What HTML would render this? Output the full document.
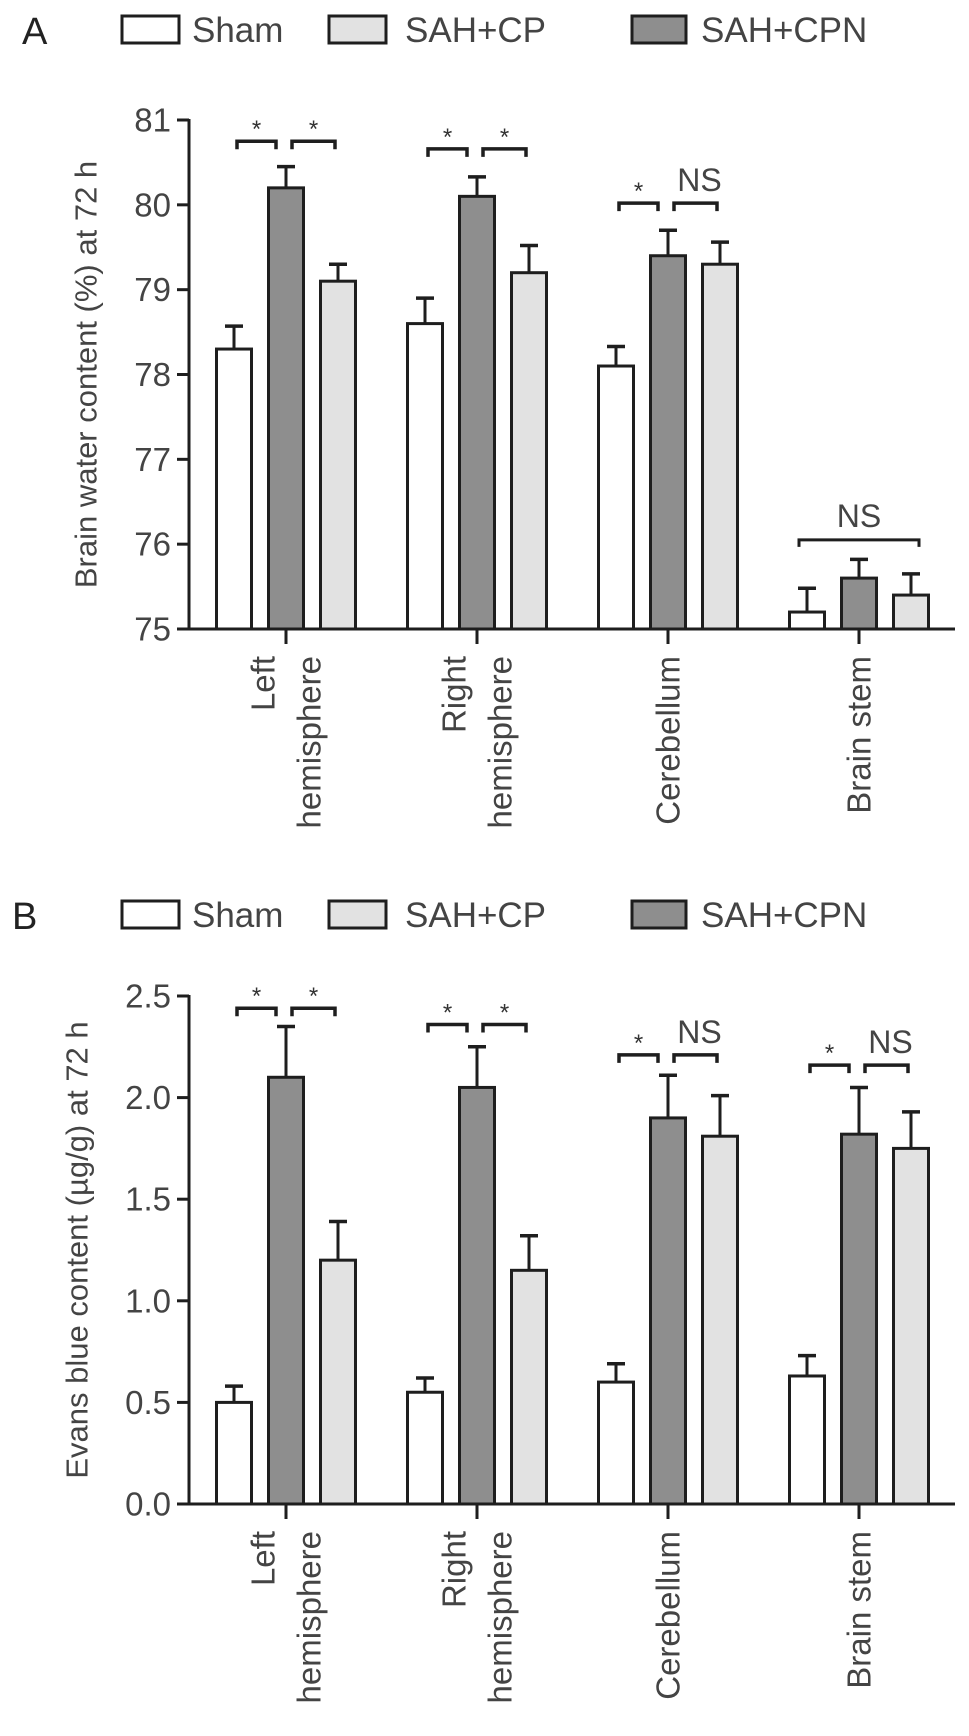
<!DOCTYPE html>
<html><head><meta charset="utf-8">
<style>
html,body{margin:0;padding:0;background:#fff;}
svg{display:block;}
text{font-family:"Liberation Sans",sans-serif;fill:#444;}
</style></head>
<body>
<svg id="fig" width="969" height="1736" viewBox="0 0 969 1736" xmlns="http://www.w3.org/2000/svg"></svg>
<script>
// ---- shared ----
const categories = [["Left","hemisphere"],["Right","hemisphere"],["Cerebellum"],["Brain stem"]];
const seriesNames = ["Sham","SAH+CP","SAH+CPN"];

// ---- Panel A data ----
const aTicks = [75,76,77,78,79,80,81];
const aSham = [78.3, 78.6, 78.1, 75.2];
const aShamErr = [0.27, 0.3, 0.23, 0.28];
const aCPN = [80.2, 80.1, 79.4, 75.6];
const aCPNErr = [0.25, 0.23, 0.3, 0.22];
const aCP = [79.1, 79.2, 79.3, 75.4];
const aCPErr = [0.2, 0.32, 0.26, 0.25];
const aBracketLevel = [80.75, 80.66, 80.02, 76.05];
const aLeftSig = ["*","*","*",""];
const aRightSig = ["*","*","NS","NS"];

// ---- Panel B data ----
const bTicks = [0.0,0.5,1.0,1.5,2.0,2.5];
const bTickLabels = ["0.0","0.5","1.0","1.5","2.0","2.5"];
const bSham = [0.5, 0.55, 0.6, 0.63];
const bShamErr = [0.08, 0.07, 0.09, 0.1];
const bCPN = [2.1, 2.05, 1.9, 1.82];
const bCPNErr = [0.25, 0.2, 0.21, 0.23];
const bCP = [1.2, 1.15, 1.81, 1.75];
const bCPErr = [0.19, 0.17, 0.2, 0.18];
const bBracketLevel = [2.44, 2.36, 2.21, 2.16];
const bLeftSig = ["*","*","*","*"];
const bRightSig = ["*","*","NS","NS"];

const NS = "http://www.w3.org/2000/svg";
const svg = document.getElementById('fig');
function mk(tag, attrs, parent, txt){
  const e = document.createElementNS(NS, tag);
  for (const k in attrs) e.setAttribute(k, attrs[k]);
  if (txt !== undefined) e.textContent = txt;
  (parent||svg).appendChild(e);
  return e;
}
const STROKE = "#1e1e1e";
const FILLS = {Sham:"#ffffff","SAH+CP":"#e2e2e2","SAH+CPN":"#8e8e8e"};

function panel(p){
  const g = mk('g', {});
  
  
  const y = v => p.y0 - (v - p.vmin) * (p.y0 - p.y1) / (p.vmax - p.vmin);
  const xAxisL = 189, xAxisR = 955;
  const groupX = i => 286 + 191 * i;
  const bw = 35, off = 52;

  // panel letter
  const lt = mk('text', {x: p.letterX, y: p.legY + 28, 'font-size': 38, style:'fill:#222'}, g, p.letter);
  
  

  // legend
  const legX = [122, 329, 632], legT = [192, 405, 701];
  const legW = [57, 57, 54];
  seriesNames.forEach((s, i) => {
    const le = mk('g', {}, g);
    
    
    mk('rect', {x: legX[i], y: p.legY, width: legW[i], height: 27, fill: FILLS[s], stroke: STROKE, 'stroke-width': 3}, le);
    mk('text', {x: legT[i], y: p.legY + 26, 'font-size': 35}, le, s);
  });

  // y axis
  const ya = mk('line', {x1: xAxisL, x2: xAxisL, y1: y(p.vmax) - 1, y2: p.y0 + 1.5, stroke: STROKE, 'stroke-width': 3}, g);
  
  
  p.ticks.forEach((t, i) => {
    mk('line', {x1: 177, x2: xAxisL, y1: y(t), y2: y(t), stroke: STROKE, 'stroke-width': 3}, g);
    const tl = mk('text', {x: 171, y: y(t), 'font-size': 33, 'text-anchor': 'end', 'dominant-baseline': 'central'}, g, p.tickLabels[i]);
    
    
  });
  const yt = mk('text', {x: 0, y: 0, 'font-size': 31, 'text-anchor': 'middle', 'dominant-baseline': 'central',
    transform: `translate(${p.titleX},${(y(p.vmax) + p.y0) / 2}) rotate(-90)`}, g, p.title);
  
  

  // x axis
  const xa = mk('line', {x1: xAxisL, x2: xAxisR, y1: p.y0, y2: p.y0, stroke: STROKE, 'stroke-width': 3}, g);
  
  

  categories.forEach((c, i) => {
    const cx = groupX(i);
    mk('line', {x1: cx, x2: cx, y1: p.y0, y2: p.y0 + 15, stroke: STROKE, 'stroke-width': 3}, g);
    c.forEach((line, j) => {
      const lx = c.length === 2 ? cx + (j === 0 ? -23 : 23) : cx;
      const t = mk('text', {x: 0, y: 0, 'font-size': 33, 'text-anchor': 'end', 'dominant-baseline': 'central',
        transform: `translate(${lx},${p.y0 + 27}) rotate(-90)`}, g, line);
      
      
    });

    // bars: Sham, CPN, CP
    const bars = [
      {s: 'Sham', v: p.sham[i], e: p.shamErr[i], dx: -off},
      {s: 'SAH+CPN', v: p.cpn[i], e: p.cpnErr[i], dx: 0},
      {s: 'SAH+CP', v: p.cp[i], e: p.cpErr[i], dx: off}
    ];
    bars.forEach(b => {
      const bx = cx + b.dx;
      const top = y(b.v), et = y(b.v + b.e);
      const el = mk('line', {x1: bx, x2: bx, y1: top, y2: et, stroke: STROKE, 'stroke-width': 3}, g);
      
      
      mk('line', {x1: bx - 9, x2: bx + 9, y1: et, y2: et, stroke: STROKE, 'stroke-width': 3.5}, g);
      const r = mk('rect', {x: bx - bw / 2, y: top, width: bw, height: p.y0 - top, fill: FILLS[b.s], stroke: STROKE, 'stroke-width': 3}, g);
      
      
    });

    // brackets
    const by = y(p.bracket[i]);
    const shamX = cx - off, cpX = cx + off;
    if (p.leftSig[i] === '' ) {
      // single span NS
      const bl = mk('path', {d: `M${shamX - 8},${by + 7} V${by} H${cpX + 8} V${by + 7}`, fill: 'none', stroke: STROKE, 'stroke-width': 3}, g);
      
      
      mk('text', {x: cx, y: by - 13, 'font-size': 32, 'text-anchor': 'middle'}, g, p.rightSig[i]);
    } else {
      const segs = [[shamX + 3, cx - 10, p.leftSig[i]], [cx + 6, cpX - 3, p.rightSig[i]]];
      segs.forEach(sg => {
        const bl = mk('path', {d: `M${sg[0]},${by + 8} V${by} H${sg[1]} V${by + 8}`, fill: 'none', stroke: STROKE, 'stroke-width': 3.5}, g);
        
        
        const mx = (sg[0] + sg[1]) / 2;
        if (sg[2] === '*') mk('text', {x: mx, y: by - 4, 'font-size': 24, 'text-anchor': 'middle', style:'fill:#333'}, g, '*');
        else mk('text', {x: mx + 4, y: by - 12, 'font-size': 32, 'text-anchor': 'middle'}, g, sg[2]);
      });
    }
  });
}

panel({name: 'panel-a-brain-water', letter: 'A', letterX: 22, legY: 16, y0: 629, y1: 120, vmin: 75, vmax: 81,
  ticks: aTicks, tickLabels: aTicks.map(String), title: 'Brain water content (%) at 72 h', titleX: 86,
  sham: aSham, shamErr: aShamErr, cpn: aCPN, cpnErr: aCPNErr, cp: aCP, cpErr: aCPErr,
  bracket: aBracketLevel, leftSig: aLeftSig, rightSig: aRightSig});

panel({name: 'panel-b-evans-blue', letter: 'B', letterX: 12, legY: 901, y0: 1504, y1: 996, vmin: 0, vmax: 2.5,
  ticks: bTicks, tickLabels: bTickLabels, title: 'Evans blue content (µg/g) at 72 h', titleX: 77,
  sham: bSham, shamErr: bShamErr, cpn: bCPN, cpnErr: bCPNErr, cp: bCP, cpErr: bCPErr,
  bracket: bBracketLevel, leftSig: bLeftSig, rightSig: bRightSig});
</script>
</body></html>
